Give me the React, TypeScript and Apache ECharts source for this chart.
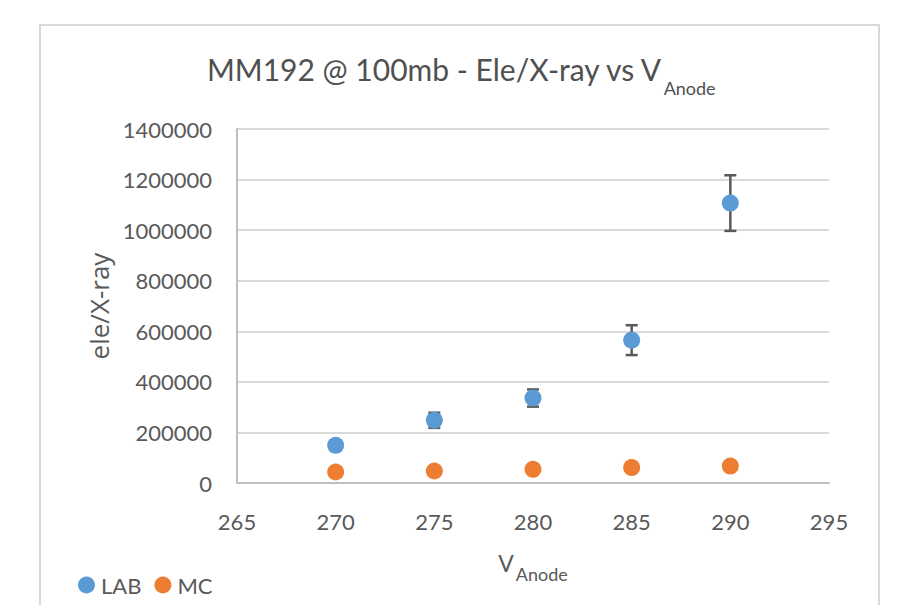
import React, { useEffect, useRef } from "react";
import * as echarts from "echarts";

const TITLE_MAIN = "MM192 @ 100mb - Ele/X-ray vs V";
const TITLE_SUB = "Anode";
const X_NAME_MAIN = "V";
const X_NAME_SUB = "Anode";
const Y_NAME = "ele/X-ray";

const V_ANODE = [270, 275, 280, 285, 290];
const LAB = [149000, 248000, 336000, 565000, 1107000];
const LAB_ERR = [20000, 30000, 34000, 59000, 110000];
const MC = [43500, 47500, 54000, 61000, 67000];

const X_MIN = 265;
const X_MAX = 295;
const X_STEP = 5;
const Y_MIN = 0;
const Y_MAX = 1400000;
const Y_STEP = 200000;

const FONT = 'Lato, "Liberation Sans", sans-serif';
const TEXT = "#595959";

export default function App() {
  const ref = useRef<HTMLDivElement>(null);
  useEffect(() => {
    if (!ref.current) return;
    const chart = echarts.init(ref.current, undefined, { renderer: "svg" });
    const errData = V_ANODE.map((x, i) => [x, LAB[i] - LAB_ERR[i], LAB[i] + LAB_ERR[i]]);
    chart.setOption({
      animation: false,
      backgroundColor: "#ffffff",
      graphic: [
        {
          type: "rect",
          shape: { x: 40, y: 25, width: 839, height: 600 },
          style: { fill: "none", stroke: "#D9D9D9", lineWidth: 2 },
          silent: true,
        },
      ],
      title: {
        text: `{m|${TITLE_MAIN}}{s|${TITLE_SUB}}`,
        left: 202,
        top: 49,
        textStyle: {
          fontWeight: "normal",
          rich: {
            m: { fontFamily: FONT, fontSize: 30, fontWeight: "normal", color: "#505050", lineHeight: 36, verticalAlign: "top" },
            s: { fontFamily: FONT, fontSize: 18, fontWeight: "normal", color: "#505050", lineHeight: 20, padding: [25, 0, 0, 0], verticalAlign: "top" },
          },
        },
      },
      legend: {
        data: ["LAB", "MC"],
        left: 73,
        top: 569,
        icon: "circle",
        itemWidth: 17,
        itemHeight: 17,
        itemGap: 13,
        textStyle: { fontFamily: FONT, fontSize: 22, color: TEXT, padding: [0, 0, 0, 1] },
      },
      grid: { left: 237, right: 79, top: 129, bottom: 122, containLabel: false },
      xAxis: {
        type: "value",
        min: X_MIN,
        max: X_MAX,
        interval: X_STEP,
        name: `{m|${X_NAME_MAIN}}{s|${X_NAME_SUB}}`,
        nameLocation: "middle",
        nameGap: 68,
        nameTextStyle: {
          rich: {
            m: { fontFamily: FONT, fontSize: 23, color: TEXT, lineHeight: 26, verticalAlign: "top" },
            s: { fontFamily: FONT, fontSize: 18, color: TEXT, lineHeight: 20, padding: [14, 0, 0, 2], verticalAlign: "top" },
          },
        },
        axisLine: { show: true, lineStyle: { color: "#BFBFBF", width: 2 } },
        axisTick: { show: false },
        splitLine: { show: false },
        axisLabel: { fontFamily: FONT, fontSize: 22, color: TEXT, margin: 27 },
      },
      yAxis: {
        type: "value",
        min: Y_MIN,
        max: Y_MAX,
        interval: Y_STEP,
        name: Y_NAME,
        nameLocation: "middle",
        nameGap: 119,
        nameTextStyle: { fontFamily: '"Open Sans", sans-serif', fontSize: 26, color: TEXT },
        axisLine: { show: true, lineStyle: { color: "#BFBFBF", width: 2 } },
        axisTick: { show: false },
        splitLine: { show: true, lineStyle: { color: "#D9D9D9", width: 2 } },
        axisLabel: {
          fontFamily: FONT,
          fontSize: 22,
          color: TEXT,
          margin: 25,
          formatter: (v: number) => String(v),
        },
      },
      series: [
        {
          type: "custom",
          name: "LAB error",
          data: errData,
          encode: { x: 0, y: [1, 2] },
          z: 1,
          silent: true,
          renderItem: (_params: any, api: any) => {
            const x = api.value(0);
            const lo = api.coord([x, api.value(1)]);
            const hi = api.coord([x, api.value(2)]);
            const hw = 6;
            const style = { stroke: "#595959", lineWidth: 2.5, fill: "none" };
            return {
              type: "group",
              children: [
                { type: "line", shape: { x1: lo[0], y1: lo[1], x2: hi[0], y2: hi[1] }, style },
                { type: "line", shape: { x1: lo[0] - hw, y1: lo[1], x2: lo[0] + hw, y2: lo[1] }, style },
                { type: "line", shape: { x1: hi[0] - hw, y1: hi[1], x2: hi[0] + hw, y2: hi[1] }, style },
              ],
            };
          },
        },
        {
          type: "scatter",
          name: "LAB",
          data: V_ANODE.map((x, i) => [x, LAB[i]]),
          symbol: "circle",
          symbolSize: 17,
          itemStyle: { color: "#5B9BD5", opacity: 1 },
          z: 3,
        },
        {
          type: "scatter",
          name: "MC",
          data: V_ANODE.map((x, i) => [x, MC[i]]),
          symbol: "circle",
          symbolSize: 17,
          itemStyle: { color: "#ED7D31", opacity: 1 },
          z: 3,
        },
      ],
    });
    return () => chart.dispose();
  }, []);
  return (
    <div
      ref={ref}
      style={{ position: "absolute", left: 0, top: 0, width: 908, height: 605 }}
    />
  );
}
